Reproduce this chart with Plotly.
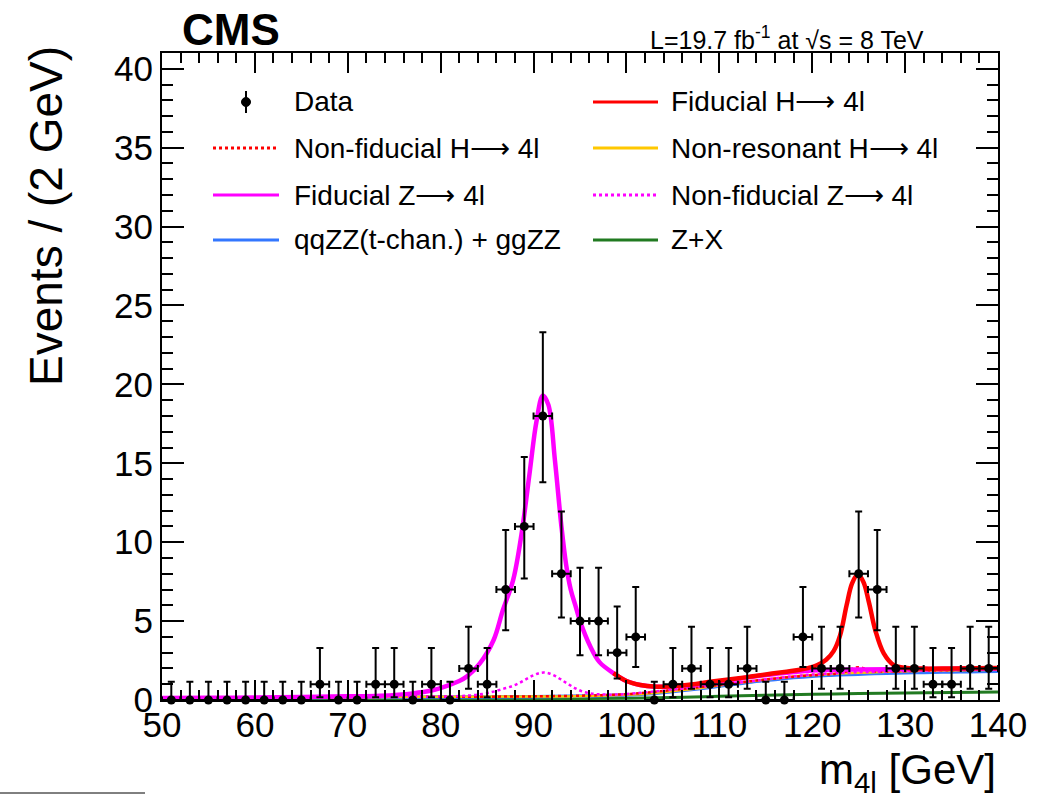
import plotly.graph_objects as go

# ---------------- data ----------------
bin_centers = [51, 53, 55, 57, 59, 61, 63, 65, 67, 69, 71, 73, 75, 77, 79, 81, 83, 85, 87, 89,
               91, 93, 95, 97, 99, 101, 103, 105, 107, 109, 111, 113, 115, 117, 119, 121, 123,
               125, 127, 129, 131, 133, 135, 137, 139]
data_counts = [0, 0, 0, 0, 0, 0, 0, 0, 1, 0, 0, 1, 1, 0, 1, 0, 2, 1, 7, 11,
               18, 8, 5, 5, 3, 4, 0, 1, 2, 1, 1, 2, 0, 0, 4, 2, 2,
               8, 7, 2, 2, 1, 1, 2, 2]
# asymmetric Poisson error bars (count -> (down, up))
poisson_err = {0: (0.0, 1.15), 1: (0.83, 2.30), 2: (1.29, 2.64), 3: (1.63, 2.92),
               4: (1.91, 3.16), 5: (2.16, 3.38), 7: (2.58, 3.77), 8: (2.77, 3.95),
               11: (3.3, 4.4), 18: (4.2, 5.3)}
bin_half_width = 1.0

# Z+X
mass_zx = [50, 60, 70, 80, 90, 100, 105, 110, 115, 120, 125, 130, 135, 140]
val_zx = [0.04, 0.05, 0.06, 0.07, 0.08, 0.11, 0.16, 0.23, 0.30, 0.36, 0.41, 0.45, 0.48, 0.50]

# qqZZ + ggZZ (stacked)
mass_zz = [50, 60, 70, 80, 90, 96, 100, 102, 104, 106, 108, 110, 112, 114, 116, 118, 120,
           122, 124, 126, 128, 130, 132, 134, 136, 138, 140]
val_zz = [0.13, 0.15, 0.17, 0.19, 0.21, 0.25, 0.32, 0.38, 0.48, 0.6, 0.73, 0.88, 1.03, 1.18,
          1.3, 1.42, 1.51, 1.57, 1.62, 1.66, 1.7, 1.73, 1.75, 1.77, 1.79, 1.8, 1.82]
# non-resonant H->4l (stacked)
val_nonres = [0.14, 0.16, 0.18, 0.2, 0.22, 0.26, 0.34, 0.4, 0.5, 0.63, 0.76, 0.92, 1.08, 1.23,
              1.36, 1.49, 1.58, 1.65, 1.71, 1.75, 1.79, 1.82, 1.85, 1.87, 1.89, 1.9, 1.92]

# non-fiducial Z->4l (stacked)
mass_nfz = [50, 60, 70, 80, 83, 84.5, 85.7, 86.8, 87.8, 88.6, 89.3, 90.0, 90.6, 91.1, 91.7,
            92.4, 93.1, 93.8, 94.5, 95.2, 96.0, 97.0, 98.5, 100, 110, 120, 130, 140]
val_nfz = [0.15, 0.17, 0.19, 0.22, 0.28, 0.38, 0.53, 0.72, 0.9, 1.12, 1.35, 1.57, 1.7, 1.74,
           1.68, 1.5, 1.24, 0.98, 0.74, 0.55, 0.43, 0.36, 0.34, 0.38, 0.96, 1.61, 1.84, 1.94]

# fiducial Z->4l (stacked)
mass_fz = [50, 55, 60, 65, 70, 73.5, 77, 79, 80.6, 82, 82.8, 84.2, 85.7, 86.7, 87.8, 88.7,
           89.6, 90.3, 91.0, 91.6, 92.3, 93.0, 93.5, 94.0, 94.5, 95.0, 96.1, 97.1, 98.6, 100,
           101.5, 103, 105, 107, 109, 111, 113, 116, 120, 125, 130, 135, 140]
val_fz = [0.13, 0.14, 0.16, 0.19, 0.23, 0.27, 0.42, 0.6, 0.88, 1.2, 1.48, 2.3, 3.8, 5.7, 7.6,
          10.5, 14.5, 17.6, 19.3, 18.7, 15.2, 11.0, 8.6, 7.0, 6.0, 5.0, 3.4, 2.4, 1.7, 1.2,
          0.95, 0.84, 0.86, 0.95, 1.1, 1.25, 1.42, 1.65, 1.87, 1.94, 1.96, 1.98, 2.0]

# non-fiducial H->4l (stacked)
mass_nfh = [50, 60, 70, 80, 90, 100, 105, 110, 115, 119, 121, 122.5, 123.5, 124.3, 125,
            125.7, 126.5, 127.5, 129, 132, 136, 140]
val_nfh = [0.15, 0.17, 0.19, 0.21, 0.23, 0.37, 0.64, 0.96, 1.3, 1.52, 1.6, 1.66, 1.78, 1.98,
           2.08, 1.98, 1.84, 1.8, 1.81, 1.86, 1.9, 1.93]

# fiducial H->4l (total)
mass_tot = [98.6, 100, 101.5, 103, 105, 107, 109, 111, 113, 115, 117, 118.5, 119.5, 120.5,
            121.5, 122.3, 123.0, 123.7, 124.3, 124.9, 125.5, 126.1, 126.8, 127.7, 128.8,
            130.2, 132, 135, 140]
val_tot = [1.7, 1.2, 0.95, 0.85, 0.88, 0.98, 1.15, 1.3, 1.45, 1.62, 1.78, 1.9, 2.02, 2.2,
           2.55, 3.1, 4.1, 6.0, 7.4, 7.95, 7.5, 6.2, 4.4, 2.95, 2.2, 2.03, 1.99, 2.0, 2.03]

x_ticks = [50, 60, 70, 80, 90, 100, 110, 120, 130, 140]
y_ticks = [0, 5, 10, 15, 20, 25, 30, 35, 40]

# ---------------- style ----------------
RED = "#ff0000"
MAG = "#ff00ff"
ORA = "#ffc800"
BLU = "#3377ff"
GRN = "#217a21"
FONT = "Liberation Sans, Arial, Helvetica, sans-serif"
ARROW = "\u27f6"

W, H = 1041, 799
L, R, T, B = 162, 998, 53, 700


def px(x):
    return (x - L) / (R - L)


def py(y):
    return (B - y) / (B - T)


fig = go.Figure()


def curve(xs, ys, color, width, dash="solid"):
    fig.add_trace(go.Scatter(x=xs, y=ys, mode="lines",
                             line=dict(color=color, width=width, dash=dash, shape="spline"),
                             showlegend=False, hoverinfo="skip"))


curve(mass_zx, val_zx, GRN, 3)
curve(mass_zz, val_zz, BLU, 3.5)
curve(mass_zz, val_nonres, ORA, 2.5)
curve(mass_nfh, val_nfh, RED, 2.5, "dot")
curve(mass_nfz, val_nfz, MAG, 2.5, "dot")
curve(mass_fz, val_fz, MAG, 4.5)
curve(mass_tot, val_tot, RED, 4.5)

err_up = [poisson_err[c][1] for c in data_counts]
err_dn = [poisson_err[c][0] for c in data_counts]
fig.add_trace(go.Scatter(
    x=bin_centers, y=data_counts, mode="markers",
    marker=dict(color="black", size=9, symbol="circle"),
    error_y=dict(type="data", symmetric=False, array=err_up, arrayminus=err_dn,
                 color="black", thickness=2, width=3.5),
    error_x=dict(type="constant", value=bin_half_width, color="black", thickness=2, width=3.5),
    cliponaxis=False, showlegend=False))

# ---------------- legend (manual) ----------------
shapes = []
annotations = []
rows = [102, 148, 195, 240]
left_items = [("Data", None, None),
              ("Non-fiducial H" + ARROW + " 4l", RED, "dot"),
              ("Fiducial Z" + ARROW + " 4l", MAG, "solid"),
              ("qqZZ(t-chan.) + ggZZ", BLU, "solid")]
right_items = [("Fiducial H" + ARROW + " 4l", RED, "solid"),
               ("Non-resonant H" + ARROW + " 4l", ORA, "solid"),
               ("Non-fiducial Z" + ARROW + " 4l", MAG, "dot"),
               ("Z+X", GRN, "solid")]


def add_item(x_line0, x_line1, x_text, yrow, label, color, dash):
    if color is None:
        xc = (x_line0 + x_line1) / 2
        shapes.append(dict(type="line", xref="paper", yref="paper",
                           x0=px(xc), x1=px(xc), y0=py(yrow - 11), y1=py(yrow + 11),
                           line=dict(color="black", width=2)))
        shapes.append(dict(type="circle", xref="paper", yref="paper",
                           x0=px(xc - 4.5), x1=px(xc + 4.5), y0=py(yrow + 4.5), y1=py(yrow - 4.5),
                           fillcolor="black", line=dict(color="black", width=1)))
    else:
        shapes.append(dict(type="line", xref="paper", yref="paper",
                           x0=px(x_line0), x1=px(x_line1), y0=py(yrow), y1=py(yrow),
                           line=dict(color=color, width=3, dash=dash)))
    annotations.append(dict(text=label, xref="paper", yref="paper", x=px(x_text), y=py(yrow),
                            xanchor="left", yanchor="middle", showarrow=False,
                            font=dict(family=FONT, size=28, color="black")))


for yrow, (lab, col, dsh) in zip(rows, left_items):
    add_item(213, 279, 292, yrow, lab, col, dsh)
for yrow, (lab, col, dsh) in zip(rows, right_items):
    add_item(593, 658, 669, yrow, lab, col, dsh)

# header texts
annotations.append(dict(text="<b>CMS</b>", xref="paper", yref="paper", x=px(180), y=py(30),
                        xanchor="left", yanchor="middle", showarrow=False,
                        font=dict(family=FONT, size=44, color="black")))
annotations.append(dict(text="L=19.7 fb<sup>-1</sup> at \u221As = 8 TeV", xref="paper", yref="paper",
                        x=px(926), y=py(38), xanchor="right", yanchor="middle", showarrow=False,
                        font=dict(family=FONT, size=25, color="black")))
# axis titles
annotations.append(dict(text="Events / (2 GeV)", xref="paper", yref="paper", x=px(46), y=py(44),
                        xanchor="center", yanchor="top", textangle=-90, showarrow=False,
                        font=dict(family=FONT, size=46, color="black")))
annotations.append(dict(text="m<sub>4l</sub> [GeV]", xref="paper", yref="paper", x=px(998), y=py(772),
                        xanchor="right", yanchor="middle", showarrow=False,
                        font=dict(family=FONT, size=42, color="black")))
# small rule at bottom left (part of the source image)
shapes.append(dict(type="line", xref="paper", yref="paper", x0=px(0), x1=px(145),
                   y0=py(793), y1=py(793), line=dict(color="black", width=1)))

axis_common = dict(showgrid=False, zeroline=False, showline=True, linecolor="black",
                   linewidth=2, mirror="allticks", ticks="inside", tickcolor="black",
                   tickwidth=1.5, tickfont=dict(family=FONT, size=35, color="black"))

fig.update_layout(
    width=W, height=H,
    margin=dict(l=L, r=W - R, t=T, b=H - B, pad=0),
    paper_bgcolor="white", plot_bgcolor="white",
    showlegend=False,
    shapes=shapes, annotations=annotations,
    xaxis=dict(range=[50, 140], tickvals=x_ticks, ticklen=20, ticklabelstandoff=-7,
               minor=dict(dtick=2, tick0=50, ticklen=10, ticks="inside", tickcolor="black", tickwidth=1.5),
               **axis_common),
    yaxis=dict(range=[0, 41], tickvals=y_ticks, ticklen=22,
               minor=dict(dtick=1, tick0=0, ticklen=11, ticks="inside", tickcolor="black", tickwidth=1.5),
               **axis_common),
)

fig.write_html("out.html")
